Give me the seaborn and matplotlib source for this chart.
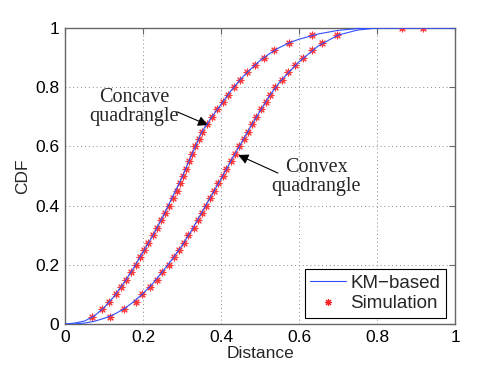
import numpy as np
import pandas as pd
import matplotlib
matplotlib.use("Agg")
import matplotlib.pyplot as plt
import seaborn as sns
from matplotlib.lines import Line2D

# ---------------- data ----------------
# CDF levels of the simulation markers
sim_levels = [0.025, 0.05, 0.075, 0.1, 0.125, 0.15, 0.175, 0.2, 0.225, 0.25,
              0.275, 0.3, 0.325, 0.35, 0.375, 0.4, 0.425, 0.45, 0.475, 0.5,
              0.525, 0.55, 0.575, 0.6, 0.625, 0.65, 0.675, 0.7, 0.725, 0.75,
              0.775, 0.8, 0.825, 0.85, 0.875, 0.9, 0.925, 0.95, 0.975, 1.0]
sim_concave_x = [0.070, 0.096, 0.114, 0.130, 0.144, 0.156, 0.168, 0.182, 0.193, 0.203,
                 0.214, 0.226, 0.237, 0.246, 0.256, 0.266, 0.276, 0.286, 0.294, 0.302,
                 0.309, 0.317, 0.326, 0.333, 0.343, 0.351, 0.364, 0.377, 0.391, 0.405,
                 0.419, 0.433, 0.449, 0.467, 0.486, 0.511, 0.537, 0.574, 0.633, 0.863]
sim_convex_x = [0.115, 0.151, 0.181, 0.198, 0.218, 0.236, 0.249, 0.266, 0.279, 0.292,
                0.305, 0.316, 0.330, 0.340, 0.350, 0.361, 0.371, 0.382, 0.393, 0.404,
                0.414, 0.425, 0.435, 0.447, 0.458, 0.468, 0.479, 0.490, 0.503, 0.515,
                0.526, 0.539, 0.556, 0.573, 0.591, 0.611, 0.633, 0.659, 0.698, 0.919]

# KM-based analytical curves
km_x = [0.0, 0.025, 0.05, 0.075, 0.1, 0.125, 0.15, 0.175, 0.2, 0.225, 0.25,
        0.275, 0.3, 0.325, 0.35, 0.375, 0.4, 0.425, 0.45, 0.475, 0.5,
        0.525, 0.55, 0.575, 0.6, 0.65, 0.7, 0.75, 0.8, 1.0]
km_concave = [0.0, 0.003, 0.010, 0.027, 0.055, 0.092, 0.137, 0.187, 0.243, 0.298, 0.360,
              0.428, 0.495, 0.572, 0.647, 0.697, 0.742, 0.787, 0.827, 0.860, 0.890,
              0.914, 0.934, 0.950, 0.962, 0.980, 0.992, 0.998, 1.0, 1.0]
km_convex = [0.0, 0.0005, 0.003, 0.009, 0.019, 0.032, 0.050, 0.074, 0.103, 0.137, 0.177,
             0.219, 0.265, 0.317, 0.375, 0.433, 0.490, 0.550, 0.607, 0.664, 0.719,
             0.772, 0.817, 0.852, 0.886, 0.940, 0.976, 0.993, 1.0, 1.0]

x_ticks = [0, 0.2, 0.4, 0.6, 0.8, 1]
y_ticks = [0, 0.2, 0.4, 0.6, 0.8, 1]
tick_labels = ["0", "0.2", "0.4", "0.6", "0.8", "1"]

# ---------------- plotting ----------------
sns.set_theme(style="white")
plt.rcParams['font.family'] = ['Liberation Sans', 'DejaVu Sans']

fig = plt.figure(figsize=(4.98, 3.69), dpi=100)
ax = fig.add_axes([65 / 498, 1 - 324 / 369, 390 / 498, 296 / 369])

line_color = "#3050ff"
star = (8, 2, 0)

km_df = pd.DataFrame({"x": km_x + km_x,
                      "y": km_concave + km_convex,
                      "shape": ["concave"] * len(km_x) + ["convex"] * len(km_x)})
sim_df = pd.DataFrame({"x": sim_concave_x + sim_convex_x,
                       "y": sim_levels + sim_levels,
                       "shape": ["concave"] * len(sim_levels) + ["convex"] * len(sim_levels)})

for shp in ["concave", "convex"]:
    sub = km_df[km_df["shape"] == shp]
    sns.lineplot(data=sub, x="x", y="y", ax=ax, color=line_color, lw=0.8,
                 sort=False, estimator=None, legend=False, zorder=4)
sns.scatterplot(data=sim_df, x="x", y="y", ax=ax, marker=star, s=24,
                color="#ff2020", edgecolor="#ff2020", linewidth=0.8, legend=False,
                alpha=0.9, zorder=3)

ax.set_xlim(0, 1)
ax.set_ylim(0, 1)
ax.set_xticks(x_ticks)
ax.set_yticks(y_ticks)
ax.set_xticklabels(tick_labels)
ax.set_yticklabels(tick_labels)
ax.tick_params(direction="in", length=4, width=0.8, top=True, right=True,
               labelsize=12.5, colors="#666666", labelcolor="black", pad=4)
ax.grid(True, linestyle=(0, (1, 3)), color="#888888", linewidth=0.7)
for sp in ax.spines.values():
    sp.set_color("#666666")
    sp.set_linewidth(1.0)
ax.set_xlabel("Distance", fontsize=12.5, labelpad=1)
ax.set_ylabel("CDF", fontsize=12.5, labelpad=4)

serif = ['Liberation Serif', 'DejaVu Serif']
ax.text(0.177, 0.734, "Concave\nquadrangle", family=serif, fontsize=14.5,
        ha="center", va="center", linespacing=1.0)
ax.annotate("", xy=(0.367, 0.672), xytext=(0.287, 0.717),
            arrowprops=dict(arrowstyle="-|>", color="black", lw=0.8,
                            mutation_scale=15, shrinkA=0, shrinkB=0))
ax.text(0.644, 0.498, "Convex\nquadrangle", family=serif, fontsize=14.5,
        ha="center", va="center", linespacing=1.0)
ax.annotate("", xy=(0.444, 0.571), xytext=(0.546, 0.510),
            arrowprops=dict(arrowstyle="-|>", color="black", lw=0.8,
                            mutation_scale=15, shrinkA=0, shrinkB=0))

handles = [Line2D([], [], color=line_color, lw=0.8, label="KM\u2212based"),
           Line2D([], [], color="#ff2020", marker=star, ls="", markersize=5,
                  markeredgewidth=0.8, label="Simulation")]
leg = ax.legend(handles=handles, loc="lower right", bbox_to_anchor=(0.977, 0.02),
                fontsize=13.5, frameon=True, fancybox=False, framealpha=1,
                edgecolor="black", borderpad=0.3, handlelength=1.9,
                handletextpad=0.25, labelspacing=0.2, borderaxespad=0)
leg.get_frame().set_linewidth(0.8)

fig.savefig("out.png", dpi=100)
